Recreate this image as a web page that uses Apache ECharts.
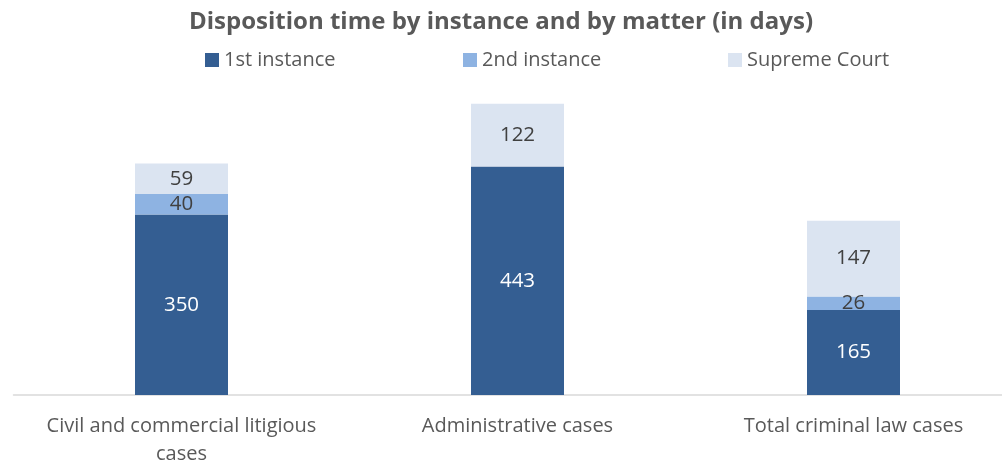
<!DOCTYPE html>
<html><head><meta charset="utf-8">
<script src="https://cdn.jsdelivr.net/npm/echarts@6/dist/echarts.min.js"></script>
<style>html,body{margin:0;padding:0;background:#fff}#c{width:1002px;height:464px}</style>
</head><body><div id="c"></div>
<script>
const categories = ["Civil and commercial litigious\ncases", "Administrative cases", "Total criminal law cases"];
const seriesNames = ["1st instance", "2nd instance", "Supreme Court"];
const firstInstance = [350, 443, 165];
const secondInstance = [40, null, 26];
const supremeCourt = [59, 122, 147];
const colors = ["#345E92", "#8EB3E2", "#DBE4F1"];
const labelColors = ["#ffffff", "#404040", "#404040"];
const values = [firstInstance, secondInstance, supremeCourt];
const font = "'Open Sans', sans-serif";
const legendLeft = [200, 458, 723];

const chart = echarts.init(document.getElementById('c'));
chart.setOption({
  animation: false,
  title: {
    text: "Disposition time by instance and by matter (in days)",
    left: 'center', top: 5,
    textStyle: {fontFamily: font, fontWeight: 'bold', fontSize: 24, color: '#595959'}
  },
  legend: seriesNames.map((n, i) => ({
    data: [n], left: legendLeft[i], top: 45, icon: 'rect', itemWidth: 14, itemHeight: 14, itemGap: 7,
    textStyle: {fontFamily: font, fontSize: 20, color: '#595959'}
  })),
  grid: {left: 13.5, width: 1008, top: 85.6, bottom: 69, outerBoundsMode: 'none', containLabel: false},
  xAxis: {
    type: 'category', data: categories,
    axisLine: {lineStyle: {color: '#d9d9d9', width: 1.5}},
    axisTick: {show: false},
    axisLabel: {fontFamily: font, fontSize: 20, color: '#595959', margin: 17, lineHeight: 28, interval: 0}
  },
  yAxis: {type: 'value', min: 0, max: 600, show: false, splitLine: {show: false}},
  series: seriesNames.map((n, i) => ({
    name: n, type: 'bar', stack: 'total', data: values[i], barWidth: 93,
    itemStyle: {color: colors[i]},
    label: {show: true, position: 'inside', fontFamily: font, fontSize: 20.5, color: labelColors[i]}
  }))
});
</script></body></html>
